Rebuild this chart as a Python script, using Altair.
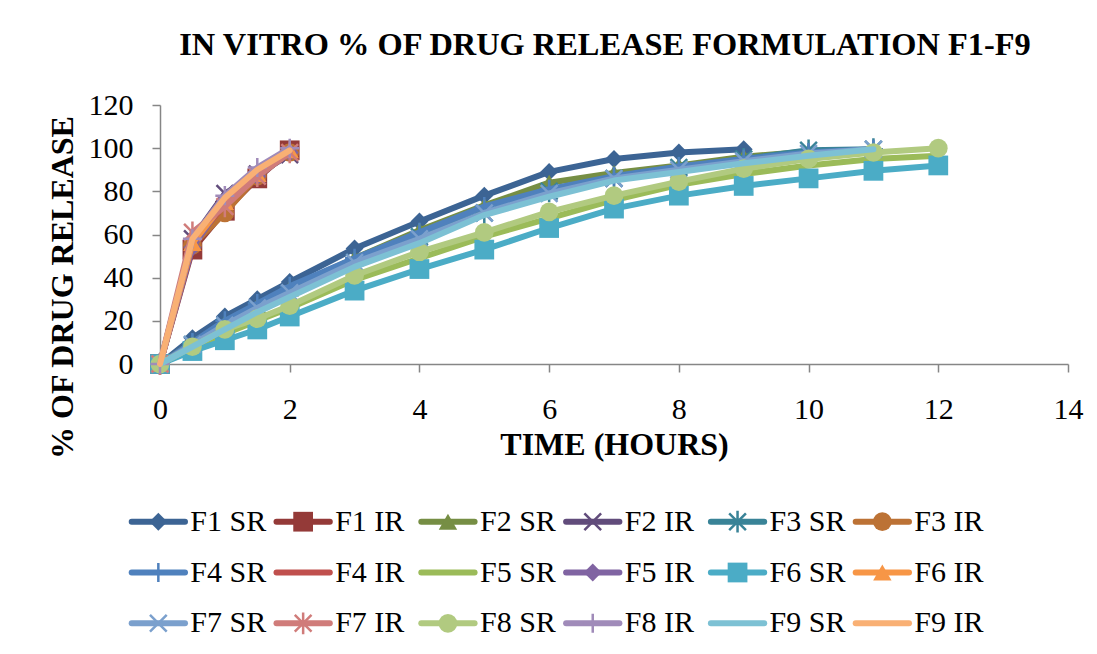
import altair as alt
import pandas as pd

# ---------------- data ----------------
times_sr = [0, 0.5, 1, 1.5, 2, 3, 4, 5, 6, 7, 8, 9, 10, 11, 12]
times_ir = [0, 0.5, 1, 1.5, 2]

f1_sr = [0, 12, 22, 30, 38, 53.5, 66, 78, 89, 95, 98, 99.5]
f2_sr = [0, 10, 19, 27, 35, 49, 62, 73.5, 84, 88.5, 92, 96, 98.5]
f3_sr = [0, 9, 17, 25, 32, 47, 59, 70, 80, 86, 91, 95, 99, 99.5]
f4_sr = [0, 10, 20, 28, 36, 49, 61, 73, 81, 87, 91.5, 95, 98, 99.5]
f5_sr = [0, 7, 14, 20, 26, 39, 49, 59, 67.5, 76, 83, 88, 92, 95, 96.5]
f6_sr = [0, 6, 11, 16, 22, 34, 44, 53, 63, 72, 78, 82.5, 86, 89.5, 92]
f7_sr = [0, 9, 18, 26, 33, 47, 58, 70, 79, 86, 90, 94, 97.5, 99.5]
f8_sr = [0, 8, 16, 21, 27, 41, 52, 61, 70.5, 78, 84.5, 90.5, 95, 98, 100]
f9_sr = [0, 8, 16, 24, 31, 45, 56, 69, 77.5, 85, 89, 93, 96.5, 99.5]

f1_ir = [0, 53, 71, 86, 99]
f2_ir = [0, 58, 79, 88, 97]
f3_ir = [0, 55, 70, 87, 98]
f4_ir = [0, 56, 74, 88, 99]
f5_ir = [0, 54, 76, 87, 98]
f6_ir = [0, 56, 75, 88, 99]
f7_ir = [0, 61, 73, 87, 98]
f8_ir = [0, 58, 78, 91, 100]
f9_ir = [0, 58, 77, 90, 99]

series_names = ["F1 SR", "F1 IR", "F2 SR", "F2 IR", "F3 SR", "F3 IR",
                "F4 SR", "F4 IR", "F5 SR", "F5 IR", "F6 SR", "F6 IR",
                "F7 SR", "F7 IR", "F8 SR", "F8 IR", "F9 SR", "F9 IR"]
series_values = [f1_sr, f1_ir, f2_sr, f2_ir, f3_sr, f3_ir,
                 f4_sr, f4_ir, f5_sr, f5_ir, f6_sr, f6_ir,
                 f7_sr, f7_ir, f8_sr, f8_ir, f9_sr, f9_ir]
series_colors = ["#3C6494", "#943A38", "#768E44", "#614C7B", "#398397", "#BC7235",
                 "#4F81BD", "#C0504D", "#9BBB59", "#8064A2", "#4BACC6", "#F79646",
                 "#7BA0CD", "#D07C7A", "#B1CA80", "#A08BB9", "#7DC1D4", "#F9B074"]
series_markers = ["diamond", "square", "triangle", "x", "star", "circle",
                  "plus", None, None, "diamond", "square", "triangle",
                  "x", "star", "circle", "plus", None, None]

# ---------------- styles ----------------
SERIF = "Liberation Serif"
AXIS_GREY = "#868686"
LINE_W = 6
MARKER_STYLE = {
    "diamond": dict(shape="diamond", filled=True, size=320, opacity=1),
    "square": dict(shape="square", filled=True, size=390, opacity=1),
    "triangle": dict(shape="triangle-up", filled=True, size=340, opacity=1),
    "circle": dict(shape="circle", filled=True, size=350, opacity=1),
    "x": dict(shape="M-1,-1L1,1M-1,1L1,-1", filled=False, size=280, strokeWidth=2.5, opacity=1),
    "star": dict(shape="M-1,-1L1,1M-1,1L1,-1M0,-1.3L0,1.3", filled=False, size=280, strokeWidth=2.5, opacity=1),
    "plus": dict(shape="M-1.1,0L1.1,0M0,-1.1L0,1.1", filled=False, size=300, strokeWidth=2.5, opacity=1),
}

rows = []
for name, vals in zip(series_names, series_values):
    ts = times_sr if name.endswith("SR") else times_ir
    for t, v in zip(ts, vals):
        rows.append({"series": name, "time": t, "value": v})
df = pd.DataFrame(rows)

color = alt.Color("series:N", scale=alt.Scale(domain=series_names, range=series_colors), legend=None)

x_axis = alt.Axis(
    values=list(range(0, 15, 2)), title="TIME (HOURS)", grid=False,
    labelFont=SERIF, labelFontSize=30, labelColor="black", labelPadding=22,
    labelFlush=False, labelOverlap=False,
    tickColor=AXIS_GREY, tickSize=8, tickWidth=1.5,
    domainColor=AXIS_GREY, domainWidth=1.5,
    titleFont=SERIF, titleFontSize=32, titleFontWeight="bold", titleColor="black",
    titleY=90, titleBaseline="alphabetic",
)
y_axis = alt.Axis(
    values=list(range(0, 121, 20)), title="% OF DRUG RELEASE", grid=False,
    labelFont=SERIF, labelFontSize=30, labelColor="black", labelPadding=19,
    labelOverlap=False,
    tickColor=AXIS_GREY, tickSize=8, tickWidth=1.5,
    domainColor=AXIS_GREY, domainWidth=1.5,
    titleFont=SERIF, titleFontSize=32, titleFontWeight="bold", titleColor="black",
    titleAngle=270, titleX=-98, titleY=182, titleAlign="center", titleBaseline="middle",
)
X = alt.X("time:Q", scale=alt.Scale(domain=[0, 14], nice=False), axis=x_axis)
Y = alt.Y("value:Q", scale=alt.Scale(domain=[0, 120], nice=False), axis=y_axis)

base = alt.Chart(df)
main_layers = []
for name, mk in zip(series_names, series_markers):
    sub = base.transform_filter(alt.datum.series == name)
    main_layers.append(
        sub.mark_line(strokeWidth=LINE_W, strokeCap="round", strokeJoin="round").encode(x=X, y=Y, color=color)
    )
    if mk:
        main_layers.append(sub.mark_point(**MARKER_STYLE[mk]).encode(x=X, y=Y, color=color))
main = alt.layer(*main_layers)

# ---------------- legend (6 columns x 3 rows) ----------------
leg_rows = []
for i, name in enumerate(series_names):
    c, r = i % 6, i // 6
    leg_rows.append({"series": name, "x0": c, "x1": c + 0.368, "xm": c + 0.184,
                     "xt": c + 0.405, "row": r})
leg_df = pd.DataFrame(leg_rows)
lx_scale = alt.Scale(domain=[0, 5], range=[-28.3, 695.7])
ly_scale = alt.Scale(domain=[0, 2], range=[416.7, 518.3])
LX0 = alt.X("x0:Q", scale=lx_scale, axis=None)
LXM = alt.X("xm:Q", scale=lx_scale, axis=None)
LXT = alt.X("xt:Q", scale=lx_scale, axis=None)
LY = alt.Y("row:Q", scale=ly_scale, axis=None)

leg_base = alt.Chart(leg_df)
leg_layers = [
    leg_base.mark_rule(strokeWidth=LINE_W, strokeCap="round").encode(x=LX0, x2="x1:Q", y=LY, color=color),
    leg_base.mark_text(align="left", baseline="middle", font=SERIF, fontSize=30, color="black").encode(
        x=LXT, y=LY, text="series:N"),
]
for name, mk in zip(series_names, series_markers):
    if mk:
        leg_layers.append(
            leg_base.transform_filter(alt.datum.series == name)
            .mark_point(**MARKER_STYLE[mk]).encode(x=LXM, y=LY, color=color)
        )
legend = alt.layer(*leg_layers)

chart = (
    alt.layer(main, legend)
    .resolve_scale(x="independent", y="independent")
    .properties(
        width=908, height=259,
        title=alt.TitleParams(
            text="IN VITRO % OF DRUG RELEASE FORMULATION F1-F9",
            font=SERIF, fontSize=32.4, fontWeight="bold", color="black",
            anchor="middle", frame="group", dx=-9, offset=3, baseline="alphabetic",
        ),
        padding={"left": 160, "top": 105, "right": 29, "bottom": 290},
        autosize=alt.AutoSizeParams(type="none"),
        background="white",
    )
    .configure_view(stroke=None)
)

chart.save("out.html", embed_options={"renderer": "svg", "actions": False})
